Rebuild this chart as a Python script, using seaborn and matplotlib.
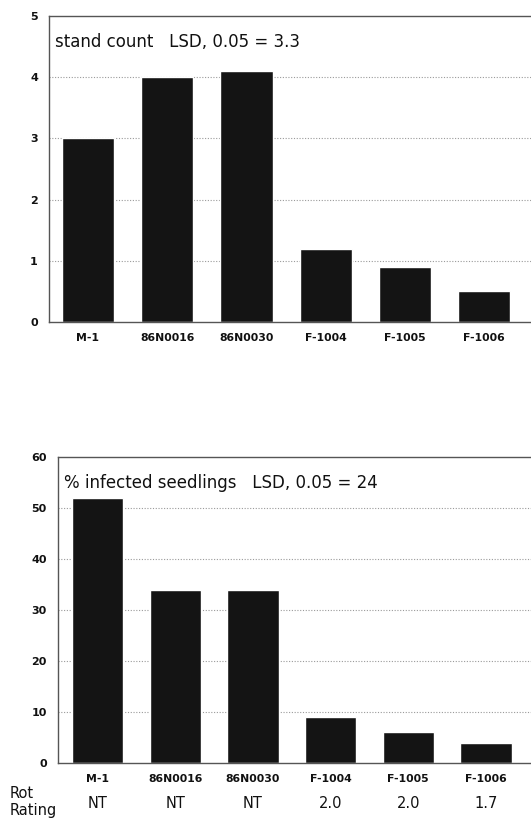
import matplotlib
matplotlib.use("Agg")
import matplotlib.pyplot as plt
import matplotlib.transforms as mtransforms
import seaborn as sns

# cultivars and their values
cultivars = ["M-1", "86N0016", "86N0030", "F-1004", "F-1005", "F-1006"]
stand_count = [3.0, 4.0, 4.1, 1.2, 0.9, 0.5]
pct_infected = [52, 34, 34, 9, 6, 4]
rot_rating = ["NT", "NT", "NT", "2.0", "2.0", "1.7"]

top_title = "stand count   LSD, 0.05 = 3.3"
bottom_title = "% infected seedlings   LSD, 0.05 = 24"

sns.set_style("white")
plt.rcParams["font.family"] = ["DejaVu Sans"]

BAR = "#141414"
INK = "#111111"

fig = plt.figure(figsize=(5.31, 8.19), dpi=100)
ax1 = fig.add_axes([0.0923, 0.6068, 0.9077, 0.3736])
ax2 = fig.add_axes([0.1092, 0.0684, 0.8908, 0.3736])


def style_axis(ax, ymax, step, xlim, title, title_x):
    ax.set_ylim(0, ymax)
    ax.set_xlim(*xlim)
    ax.set_yticks(range(0, ymax + 1, step))
    ax.set_xlabel("")
    ax.set_ylabel("")
    for y in range(step, ymax, step):
        ax.axhline(y, color="#9a9a9a", lw=0.8, ls=(0, (1, 1.5)), zorder=0)
    for side in ["left", "bottom", "top"]:
        ax.spines[side].set_color("#555555")
        ax.spines[side].set_linewidth(1.0)
    ax.spines["right"].set_visible(False)
    ax.tick_params(axis="y", length=4, width=1.2, color="#333333",
                   direction="inout", labelsize=8, pad=6, labelcolor=INK)
    ax.tick_params(axis="x", length=0, labelsize=7.8, pad=8, labelcolor=INK)
    for lab in ax.get_yticklabels() + ax.get_xticklabels():
        lab.set_fontweight("bold")
    ax.text(title_x, 0.915, title, transform=ax.transAxes, fontsize=12,
            ha="left", va="center", color=INK)


sns.barplot(x=cultivars, y=stand_count, color=BAR, saturation=1,
            width=0.66, ax=ax1, zorder=2)
style_axis(ax1, 5, 1, (-0.49, 5.59), top_title, 0.013)

sns.barplot(x=cultivars, y=pct_infected, color=BAR, saturation=1,
            width=0.66, ax=ax2, zorder=2)
style_axis(ax2, 60, 10, (-0.51, 5.58), bottom_title, 0.013)

# rot rating row below the lower chart
trans = mtransforms.blended_transform_factory(ax2.transData, fig.transFigure)
for i, r in enumerate(rot_rating):
    ax2.text(i, 1 - 803 / 819, r, transform=trans, ha="center", va="center",
             fontsize=10.5, color=INK)
fig.text(10 / 531, 1 - 793 / 819, "Rot", fontsize=10.5, va="center", ha="left", color=INK)
fig.text(10 / 531, 1 - 810 / 819, "Rating", fontsize=10.5, va="center", ha="left", color=INK)

fig.savefig("out.png", dpi=100)
